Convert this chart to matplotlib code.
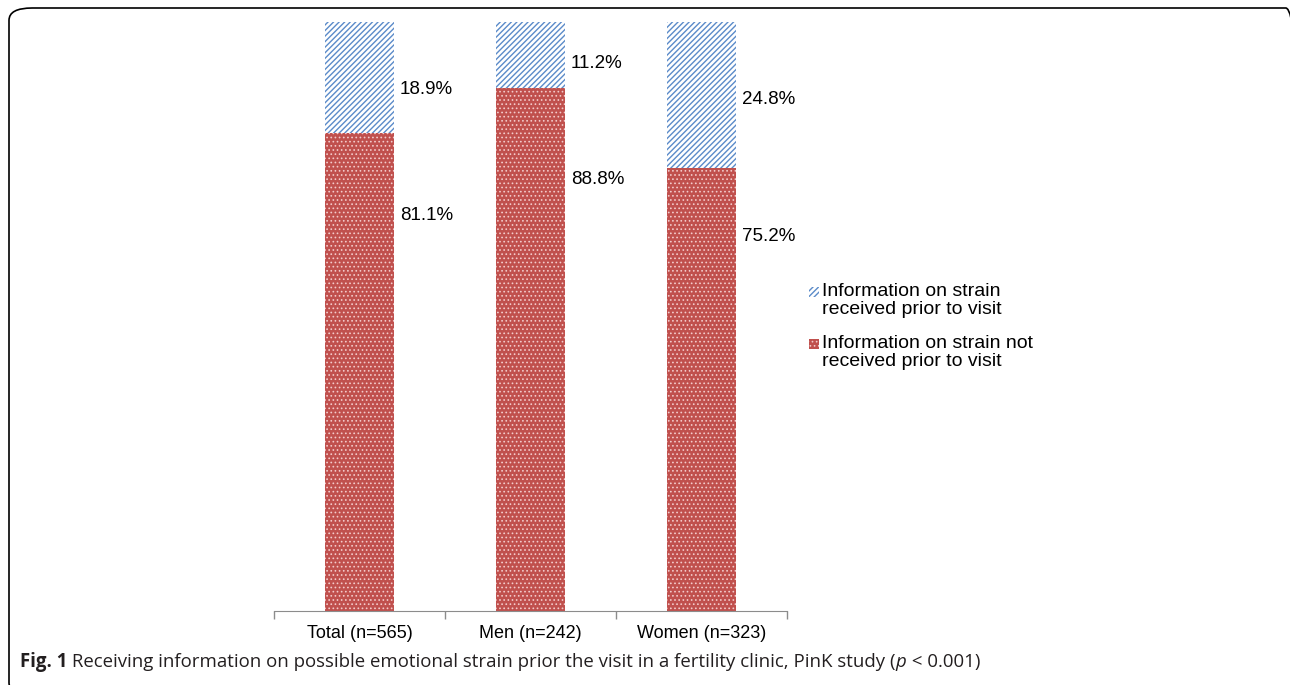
import numpy as np
import matplotlib.pyplot as plt
from matplotlib.patches import FancyBboxPatch, Rectangle

# -------------------------
# Data
# -------------------------
groups = ['Total (n=565)', 'Men (n=242)', 'Women (n=323)']
not_received = [81.1, 88.8, 75.2]
received = [18.9, 11.2, 24.8]

series_labels = ['Information on strain\nreceived prior to visit',
                 'Information on strain not\nreceived prior to visit']

# label heights (percent scale) as placed in the original
lab_y_received = [88.6, 92.9, 86.8]
lab_y_not = [67.1, 73.2, 63.5]

caption_bold = 'Fig. 1'
caption_text = ' Receiving information on possible emotional strain prior the visit in a fertility clinic, PinK study ('
caption_tail = ' < 0.001)'

blue = '#5B8BC9'
red = '#C0504D'
dot = '#f3caca'

plt.rcParams['font.family'] = ['Liberation Sans', 'DejaVu Sans']

W, H = 1290, 685
fig = plt.figure(figsize=(W / 100, H / 100), dpi=100)
ax = fig.add_axes([274 / W, 1 - 611 / H, (787 - 274) / W, (611 - 22) / H])


def hatch_lw(bars, lw):
    for b in bars:
        if hasattr(b, 'set_hatch_linewidth'):
            b.set_hatch_linewidth(lw)


x = np.arange(len(groups))
bw = 0.40
with plt.rc_context({'hatch.linewidth': 0.7}):
    b1 = ax.bar(x, not_received, bw, color=red, edgecolor=dot, hatch='....', linewidth=0)
hatch_lw(b1, 0.7)
with plt.rc_context({'hatch.linewidth': 1.0}):
    b2 = ax.bar(x, received, bw, bottom=not_received, color='white', edgecolor=blue,
                hatch='//////', linewidth=0)
hatch_lw(b2, 1.0)

for i in range(len(groups)):
    ax.text(x[i] + bw / 2 + 0.035, lab_y_received[i], f'{received[i]:.1f}%',
            fontsize=13.5, va='center', ha='left')
    ax.text(x[i] + bw / 2 + 0.035, lab_y_not[i], f'{not_received[i]:.1f}%',
            fontsize=13.5, va='center', ha='left')

ax.set_xlim(-0.5, len(groups) - 0.5)
ax.set_ylim(0, 100)
ax.set_yticks([])
for s in ['top', 'right', 'left']:
    ax.spines[s].set_visible(False)
ax.spines['bottom'].set_color('#8c8c8c')
ax.set_xticks(np.arange(len(groups) + 1) - 0.5)
ax.set_xticklabels([])
ax.set_xticks(x, minor=True)
ax.set_xticklabels(groups, minor=True, fontsize=13)
ax.tick_params(axis='x', which='major', length=6, color='#8c8c8c', width=1)
ax.tick_params(axis='x', which='minor', length=0, pad=10)

# legend drawn by hand so the swatch sits on the first text line
leg_styles = [dict(facecolor='white', edgecolor=blue, hatch='//////'),
              dict(facecolor=red, edgecolor=dot, hatch='....')]
leg_lw = [1.0, 0.7]
leg_tops = [283, 335]
for lab, st, lw, top in zip(series_labels, leg_styles, leg_lw, leg_tops):
    with plt.rc_context({'hatch.linewidth': lw}):
        p = Rectangle((809 / W, 1 - (top + 14) / H), 10 / W, 10 / H,
                      transform=fig.transFigure, linewidth=0, **st)
    hatch_lw([p], lw)
    fig.patches.append(p)
    fig.text(822 / W, 1 - top / H, lab, fontsize=14, va='top', ha='left',
             linespacing=1.05)

# frame around figure
fig.patches.append(FancyBboxPatch((9 / W, -10 / H), (W + 10) / W, (H - 8 + 10) / H,
                                  boxstyle='round,pad=0,rounding_size=0.018',
                                  transform=fig.transFigure, fill=False,
                                  edgecolor='black', linewidth=1.2))

# caption
fig.canvas.draw()
r = fig.canvas.get_renderer()
cy = 1 - 662 / H
cap_font = ['Open Sans', 'DejaVu Sans']
cs = 13.45
t1 = fig.text(20 / W, cy, caption_bold, fontsize=cs, fontweight='bold', va='center',
              family=cap_font, color='#231f20')
x1 = t1.get_window_extent(r).x1
t2 = fig.text(x1 / W, cy, caption_text, fontsize=cs, va='center', family=cap_font,
              color='#231f20')
x2 = t2.get_window_extent(r).x1
t3 = fig.text(x2 / W, cy, 'p', fontsize=cs, va='center', family=cap_font,
              style='italic', color='#231f20')
x3 = t3.get_window_extent(r).x1
fig.text(x3 / W, cy, caption_tail, fontsize=cs, va='center', family=cap_font,
         color='#231f20')

fig.savefig('out.png', dpi=100)
